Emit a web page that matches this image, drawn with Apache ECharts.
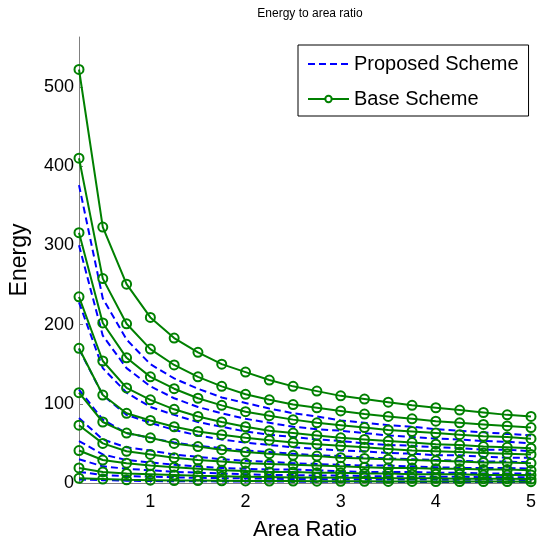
<!DOCTYPE html>
<html>
<head>
<meta charset="utf-8">
<script src="https://cdn.jsdelivr.net/npm/echarts@6/dist/echarts.min.js"></script>
<style>html,body{margin:0;padding:0;background:#fff}#c{width:539px;height:550px}</style>
</head>
<body>
<div id="c"></div>
<script>
const areaRatio = [0.25,0.5,0.75,1,1.25,1.5,1.75,2,2.25,2.5,2.75,3,3.25,3.5,3.75,4,4.25,4.5,4.75,5];
const xTicks = [1,2,3,4,5];
const yTicks = [0,100,200,300,400,500];

const base1 = [522,323,251,209,183,165,150,140,130,122,116,110,106,102,98,95,92,89,86,84];
const base2 = [410,258,201,169,149,134,122,112,105,99,95,91,87,84,81,78,76,74,72,70];
const base3 = [316,202,158,134,119,107,98,90,85,80,76,73,70,67,65,63,61,59,58,56];
const base4 = [235,154,120,105,93,84,77,71,66,63,60,57,55,53,51,49,48,46,45,44];
const base5 = [170,111,88,79,71,65,61,57,54,51,49,47,45,43,41,40,39,38,37,36];
const base6 = [114,77,63,57,50,46,42,39,37,35,34,32,31,30,29,28,27,26,26,25];
const base7 = [73,50,40,36,32,29,27,25,24,23,22,21,20,19,19,18,18,17,17,16];
const base8 = [41,29,25,22,20,18,16,15,14,14,13,13,12,12,11,11,11,10,10,10];
const base9 = [19,14,12,11,10,9,8.5,8,7.5,7,7,6.5,6.5,6,6,6,5.5,5.5,5.5,5];
const base10 = [6,5,4,3.5,3,3,2.8,2.6,2.5,2.4,2.3,2.2,2.1,2,2,1.9,1.9,1.8,1.8,1.7];

const prop1 = [376,233,181,150,132,119,108,101,94,88,84,79,76,73,71,68,66,64,62,60];
const prop2 = [300,186,145,122,107,96,88,81,76,71,68,66,63,60,58,56,55,53,52,50];
const prop3 = [228,145,114,96,86,77,71,65,61,58,55,53,50,48,47,45,44,42,42,40];
const prop4 = [169,111,86,76,67,60,55,51,48,45,43,41,40,38,37,35,35,33,32,32];
const prop5 = [118,80,63,57,51,47,44,41,39,37,35,34,32,31,30,29,28,27,27,26];
const prop6 = [82,55,45,41,36,33,30,28,27,25,24,23,22,22,21,20,19,19,19,18];
const prop7 = [53,36,29,26,23,21,19,18,17,17,16,15,14,14,14,13,13,12,12,12];
const prop8 = [30,21,18,16,14,13,12,11,10,10,9.4,9.4,8.6,8.6,7.9,7.9,7.9,7.2,7.2,7.2];
const prop9 = [14,10,8.6,7.9,7.2,6.5,6.1,5.8,5.4,5,5,4.7,4.7,4.3,4.3,4.3,4,4,4,3.6];
const prop10 = [4.3,3.6,2.9,2.5,2.2,2.2,2,1.9,1.8,1.7,1.7,1.6,1.5,1.4,1.4,1.4,1.4,1.3,1.3,1.2];

const legendNames = ['Proposed Scheme', 'Base Scheme'];
const baseSets = [base1,base2,base3,base4,base5,base6,base7,base8,base9,base10];
const propSets = [prop1,prop2,prop3,prop4,prop5,prop6,prop7,prop8,prop9,prop10];

const FONT = 'Liberation Sans, Arial, sans-serif';
const GREEN = '#008000', BLUE = '#0000ff';

function pairs(vals){ return areaRatio.map((x,i)=>[x, vals[i]]); }

const series = [];
for (let i = 0; i < baseSets.length; i++) {
  series.push({
    name: legendNames[0], type: 'line', data: pairs(propSets[i]),
    symbol: 'none', silent: true, animation: false,
    lineStyle: { color: BLUE, width: 2, type: [7,4] },
    itemStyle: { color: BLUE }, z: 2
  });
  series.push({
    name: legendNames[1], type: 'line', data: pairs(baseSets[i]),
    symbol: 'circle', symbolSize: 9, showSymbol: true, silent: true, animation: false,
    lineStyle: { color: GREEN, width: 2 },
    itemStyle: { color: 'rgba(255,255,255,0)', borderColor: GREEN, borderWidth: 2 }, z: 3
  });
}

const chart = echarts.init(document.getElementById('c'), null, { renderer: 'canvas' });
chart.setOption({
  animation: false,
  backgroundColor: '#ffffff',
  title: {
    text: 'Energy to area ratio', left: 305, top: 3, textAlign: 'center',
    textStyle: { fontFamily: FONT, fontSize: 12, fontWeight: 'normal', color: '#000' }
  },
  legend: {
    data: [
      { name: legendNames[0], itemStyle: { opacity: 0 } },
      { name: legendNames[1], itemStyle: { color: '#fff', borderColor: GREEN, borderWidth: 2 } }
    ],
    orient: 'vertical', left: 298, top: 45,
    backgroundColor: '#fff', borderColor: '#000', borderWidth: 1, borderRadius: 0,
    padding: [9, 10, 7, 9], itemGap: 15, itemWidth: 41, itemHeight: 8,
    textStyle: { fontFamily: FONT, fontSize: 20, color: '#000' },
    selectedMode: false
  },
  grid: { left: 77, right: 5, top: 37, bottom: 67, containLabel: false },
  xAxis: {
    type: 'value', min: 0.25, max: 5,
    name: 'Area Ratio', nameLocation: 'middle', nameGap: 36,
    nameTextStyle: { fontFamily: FONT, fontSize: 22, color: '#000' },
    axisLine: { show: true, onZero: false, lineStyle: { color: '#808080', width: 1 } },
    axisTick: { show: true, inside: true, length: 4, customValues: xTicks, lineStyle: { color: '#808080' } },
    axisLabel: { customValues: xTicks, margin: 10, fontFamily: FONT, fontSize: 18, color: '#000' },
    splitLine: { show: false }
  },
  yAxis: {
    type: 'value', min: 0, max: 563,
    name: 'Energy', nameLocation: 'middle', nameGap: 48, nameRotate: 90,
    nameTextStyle: { fontFamily: FONT, fontSize: 23, color: '#000' },
    axisLine: { show: true, lineStyle: { color: '#808080', width: 1 } },
    axisTick: { show: true, inside: true, length: 4, customValues: yTicks, lineStyle: { color: '#808080' } },
    axisLabel: { customValues: yTicks, margin: 5, fontFamily: FONT, fontSize: 18, color: '#000' },
    splitLine: { show: false }
  },
  series: series
});
</script>
</body>
</html>
